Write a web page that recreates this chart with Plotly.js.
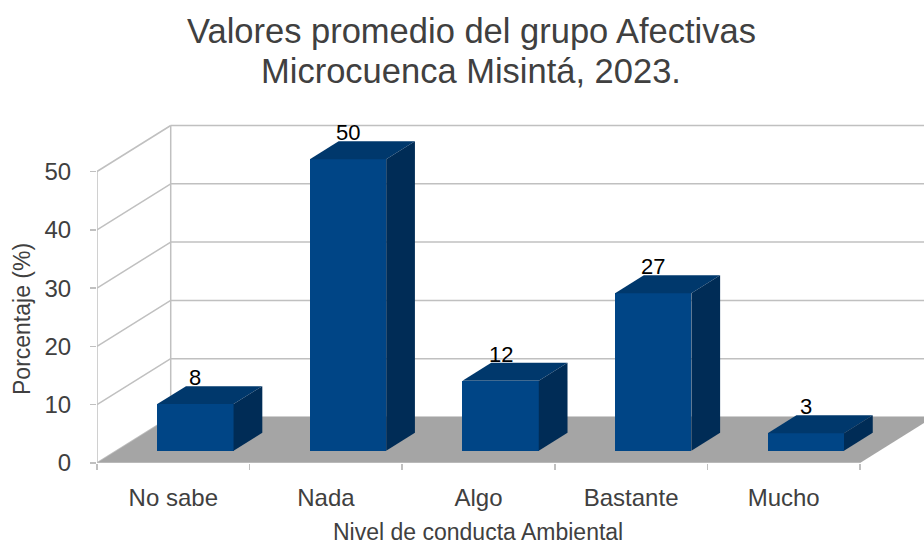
<!DOCTYPE html>
<html>
<head>
<meta charset="utf-8">
<script src="https://cdn.plot.ly/plotly-3.0.1.min.js"></script>
<style>html,body{margin:0;padding:0;background:#fff;}#chart{width:924px;height:544px;}</style>
</head>
<body>
<div id="chart"></div>
<script>
// ---- data ----
const categories = ["No sabe", "Nada", "Algo", "Bastante", "Mucho"];
const values = [8, 50, 12, 27, 3];
const yTicks = [0, 10, 20, 30, 40, 50];
const titleLines = ["Valores promedio del grupo Afectivas", "Microcuenca Misintá, 2023."];

// ---- pseudo-3D geometry (in axis units) ----
const DX = 0.483, DY = 7.89;      // full depth offset
const F0 = 0.267, F1 = 0.657;     // bar depth start / end fraction
const W = 0.5, C = 0.016;         // bar width, centre shift
const FRONT = "#004586", TOP = "#00386c", SIDE = "#002c56";
const GRID = "#c0c0c0", TXT = "#404040";
const FONT = "Liberation Sans, Arial, sans-serif";

const idx = categories.map((c, i) => i);
const nC = categories.length;
const xMin = -0.5, xMax = nC - 0.5;
const yTop = yTicks[yTicks.length - 1];

const traces = [];
traces.push({
  type: "bar",
  x: idx.map(i => i + C + F0 * DX),
  y: values,
  base: values.map(() => F0 * DY),
  width: values.map(() => W),
  marker: {color: FRONT, line: {width: 0}},
  hoverinfo: "skip",
  showlegend: false
});
values.forEach((v, i) => {
  const xl = i + C - W / 2, xr = i + C + W / 2;
  traces.push({
    type: "scatter", mode: "lines", fill: "toself", fillcolor: TOP,
    line: {width: 0, color: TOP}, hoverinfo: "skip", showlegend: false,
    x: [xl + F0 * DX, xr + F0 * DX, xr + F1 * DX, xl + F1 * DX, xl + F0 * DX],
    y: [v + F0 * DY, v + F0 * DY, v + F1 * DY, v + F1 * DY, v + F0 * DY]
  });
  traces.push({
    type: "scatter", mode: "lines", fill: "toself", fillcolor: SIDE,
    line: {width: 0, color: SIDE}, hoverinfo: "skip", showlegend: false,
    x: [xr + F0 * DX, xr + F1 * DX, xr + F1 * DX, xr + F0 * DX, xr + F0 * DX],
    y: [F0 * DY, F1 * DY, v + F1 * DY, v + F0 * DY, F0 * DY]
  });
});
traces.push({
  type: "scatter", mode: "lines", hoverinfo: "skip", showlegend: false,
  x: [xMin, xMin], y: [0, yTop], line: {color: GRID, width: 1.5}
});

const shapes = [];
yTicks.forEach(v => {
  shapes.push({type: "line", xref: "x", yref: "y", layer: "below",
    x0: xMin, y0: v, x1: xMin + DX, y1: v + DY, line: {color: GRID, width: 1.5}});
  shapes.push({type: "line", xref: "x", yref: "y", layer: "below",
    x0: xMin + DX, y0: v + DY, x1: xMax + DX, y1: v + DY, line: {color: GRID, width: 1.5}});
});
shapes.push({type: "line", xref: "x", yref: "y", layer: "below",
  x0: xMin + DX, y0: DY, x1: xMin + DX, y1: yTop + DY, line: {color: GRID, width: 1.5}});
shapes.push({type: "path", xref: "x", yref: "y", layer: "below",
  path: `M ${xMin} 0 L ${xMax} 0 L ${xMax + DX} ${DY} L ${xMin + DX} ${DY} Z`,
  fillcolor: "#a5a5a5", line: {width: 0}});
shapes.push({type: "line", xref: "x", yref: "y", layer: "below",
  x0: xMin, y0: 0, x1: xMax, y1: 0, line: {color: GRID, width: 1.5}});

const plotW = 924 - 97, plotH = 544 - 81 - 110;
const pxPerX = 152.6, pxPerY = 5.83;
const py = p => (463 - p) / plotH;       // pixel row -> paper y
const px = p => (p - 97) / plotW;        // pixel col -> paper x

const annotations = values.map((v, i) => ({
  x: i + C + F0 * DX, y: v + F1 * DY, xref: "x", yref: "y",
  text: String(v), showarrow: false, yanchor: "bottom", yshift: -6,
  font: {family: FONT, size: 22, color: "#000"}
}));
titleLines.forEach((t, k) => annotations.push({
  xref: "paper", yref: "paper", x: px(471), y: py(31 + 40 * k),
  text: t, showarrow: false, xanchor: "center", yanchor: "middle",
  font: {family: FONT, size: 34.5, color: TXT}
}));
annotations.push({
  xref: "paper", yref: "paper", x: px(22), y: py(319),
  text: "Porcentaje (%)", textangle: -90, showarrow: false,
  xanchor: "center", yanchor: "middle",
  font: {family: FONT, size: 23, color: TXT}
});
annotations.push({
  xref: "paper", yref: "paper", x: px(478), y: py(532),
  text: "Nivel de conducta Ambiental", showarrow: false,
  xanchor: "center", yanchor: "middle",
  font: {family: FONT, size: 23, color: TXT}
});

const layout = {
  width: 924, height: 544,
  margin: {l: 97, r: 0, t: 110, b: 81, pad: 0},
  paper_bgcolor: "#fff", plot_bgcolor: "rgba(0,0,0,0)",
  font: {family: FONT, color: TXT},
  xaxis: {
    range: [xMin, xMin + plotW / pxPerX], showgrid: false, zeroline: false, showline: false,
    tickmode: "array", tickvals: idx, ticktext: categories, ticks: "",
    ticklabelstandoff: 18,
    tickfont: {size: 24, color: TXT},
    minor: {tickmode: "array", tickvals: idx.concat([nC]).map(i => i - 0.5),
            ticks: "outside", ticklen: 6, tickcolor: GRID, tickwidth: 1.5, showgrid: false},
    fixedrange: true
  },
  yaxis: {
    range: [0, plotH / pxPerY], showgrid: false, zeroline: false, showline: false,
    tickmode: "array", tickvals: yTicks, ticks: "outside", ticklen: 6,
    tickcolor: GRID, tickwidth: 1.5, ticklabelstandoff: 14,
    tickfont: {size: 24, color: TXT}, fixedrange: true
  },
  shapes: shapes,
  annotations: annotations,
  showlegend: false,
  bargap: 0
};

Plotly.newPlot("chart", traces, layout, {displayModeBar: false, staticPlot: true});
</script>
</body>
</html>
